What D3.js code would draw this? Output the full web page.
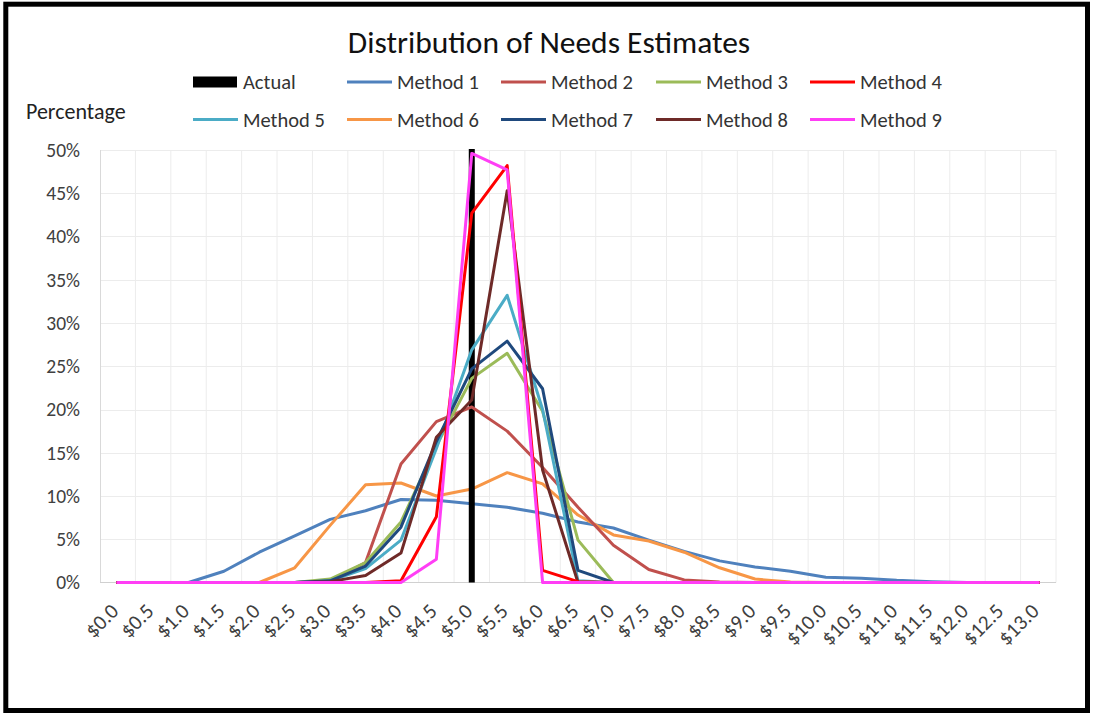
<!DOCTYPE html>
<html>
<head>
<meta charset="utf-8">
<script src="https://cdn.jsdelivr.net/npm/d3@7"></script>
<style>
  html, body { margin: 0; padding: 0; background: #ffffff; }
  svg { display: block; }
  text { font-family: Carlito, Calibri, Lato, "Open Sans", sans-serif; }
</style>
</head>
<body>
<svg id="chart" width="1095" height="714"></svg>
<script>
// ---------------- DATA ----------------
const categories = ["$0.0","$0.5","$1.0","$1.5","$2.0","$2.5","$3.0","$3.5","$4.0","$4.5",
  "$5.0","$5.5","$6.0","$6.5","$7.0","$7.5","$8.0","$8.5","$9.0","$9.5",
  "$10.0","$10.5","$11.0","$11.5","$12.0","$12.5","$13.0"];

const yTickValues = [0, 0.05, 0.10, 0.15, 0.20, 0.25, 0.30, 0.35, 0.40, 0.45, 0.50];

// Actual needs (percentage, single column)
const actualCategory = "$5.0";
const actualValue = 50;

// Series values in percent, one value per category
const method1 = [0,0,0,1.3,3.5,5.4,7.3,8.3,9.6,9.5,9.1,8.7,8.0,7.0,6.3,4.9,3.6,2.5,1.8,1.3,0.6,0.5,0.25,0.1,0,0,0];
const method2 = [0,0,0,0,0,0,0.1,2.3,13.7,18.6,20.3,17.5,13.3,8.7,4.3,1.5,0.3,0.05,0,0,0,0,0,0,0,0,0];
const method3 = [0,0,0,0,0,0,0.4,2.3,7.0,15.8,23.6,26.5,19.8,4.9,0,0,0,0,0,0,0,0,0,0,0,0,0];
const method4 = [0,0,0,0,0,0,0,0,0.2,7.6,42.7,48.2,1.4,0.1,0,0,0,0,0,0,0,0,0,0,0,0,0];
const method5 = [0,0,0,0,0,0,0.2,1.6,4.9,15.5,26.9,33.2,20.0,0.2,0,0,0,0,0,0,0,0,0,0,0,0,0];
const method6 = [0,0,0,0,0,1.7,6.6,11.3,11.5,10.0,10.8,12.7,11.4,7.8,5.5,4.8,3.5,1.7,0.4,0.05,0,0,0,0,0,0,0];
const method7 = [0,0,0,0,0,0,0.2,1.9,6.4,16.3,24.7,27.9,22.4,1.4,0,0,0,0,0,0,0,0,0,0,0,0,0];
const method8 = [0,0,0,0,0,0,0.1,0.8,3.4,16.8,21.1,45.3,13.0,0,0,0,0,0,0,0,0,0,0,0,0,0,0];
const method9 = [0,0,0,0,0,0,0,0,0,2.7,49.6,47.7,0,0,0,0,0,0,0,0,0,0,0,0,0,0,0];

const seriesNames  = ["Method 1","Method 2","Method 3","Method 4","Method 5","Method 6","Method 7","Method 8","Method 9"];
const seriesValues = [method1, method2, method3, method4, method5, method6, method7, method8, method9];
const seriesColors = ["#4F81BD","#C0504D","#9BBB59","#FF0000","#4BACC6","#F79646","#1F497D","#6E2A28","#FF3EF5"];

// ---------------- LAYOUT ----------------
const svg = d3.select("#chart");
const W = 1095, H = 714;
const plot = { left: 100, right: 1056, top: 150, bottom: 582.5 };
const FONT = "Carlito, Calibri, Lato, sans-serif";

const x = d3.scaleBand().domain(categories).range([plot.left, plot.right]).padding(0);
const y = d3.scaleLinear().domain([0, 0.5]).range([plot.bottom, plot.top]);
const cx = c => x(c) + x.bandwidth() / 2;

svg.append("rect").attr("width", W).attr("height", H).attr("fill", "#fff");

// gridlines
const grid = svg.append("g");
grid.selectAll("line.h").data(yTickValues.slice(1)).join("line")
  .attr("x1", plot.left).attr("x2", plot.right)
  .attr("y1", d => Math.round(y(d)) + 0.5).attr("y2", d => Math.round(y(d)) + 0.5)
  .attr("stroke", "#ECECEC").attr("stroke-width", 1);
grid.selectAll("line.v").data(categories.slice(1).concat(["__end"])).join("line")
  .attr("x1", d => d === "__end" ? plot.right : x(d))
  .attr("x2", d => d === "__end" ? plot.right : x(d))
  .attr("y1", plot.top).attr("y2", plot.bottom)
  .attr("stroke", "#ECECEC").attr("stroke-width", 1);

// axes lines
svg.append("line").attr("x1", plot.left + 0.5).attr("x2", plot.left + 0.5)
  .attr("y1", plot.top).attr("y2", plot.bottom).attr("stroke", "#D9D9D9");
svg.append("line").attr("x1", plot.left).attr("x2", plot.right)
  .attr("y1", plot.bottom).attr("y2", plot.bottom).attr("stroke", "#D0D0D0");

// Y axis labels
const yAxis = svg.append("g").attr("transform", `translate(${plot.left},0)`)
  .call(d3.axisLeft(y).tickValues(yTickValues).tickFormat(d3.format(".0%")).tickSize(0).tickPadding(20));
yAxis.select(".domain").remove();
yAxis.selectAll("text").attr("font-size", 19.5).attr("fill", "#404040")
  .style("font-family", FONT);

// X axis labels
const xAxis = svg.append("g").attr("transform", `translate(0,${plot.bottom})`)
  .call(d3.axisBottom(x).tickSize(0).tickPadding(0));
xAxis.select(".domain").remove();
xAxis.selectAll(".tick").attr("transform", null);
xAxis.selectAll(".tick text")
  .attr("text-anchor", "end")
  .attr("dy", null).attr("y", null)
  .attr("transform", d => `translate(${cx(d) + 2},${30}) rotate(-45)`)
  .attr("font-size", 21).attr("fill", "#404040")
  .style("font-family", FONT);

// series
const line = d3.line().x((v, i) => cx(categories[i])).y(v => y(v / 100));
const linesG = svg.append("g").attr("fill", "none");
function drawSeries(idx) {
  linesG.append("path").datum(seriesValues[idx])
    .attr("d", line)
    .attr("stroke", seriesColors[idx])
    .attr("stroke-width", 3)
    .attr("stroke-linejoin", "round")
    .attr("stroke-linecap", "round");
}
// low, wide series go under the Actual column
[0, 5].forEach(drawSeries);

// Actual column
const barW = 6;
linesG.append("rect")
  .attr("x", cx(actualCategory) - barW / 2)
  .attr("y", y(actualValue / 100) - 1)
  .attr("width", barW)
  .attr("height", y(0) - y(actualValue / 100) + 1)
  .attr("fill", "#000");

[1, 2, 4, 6, 7, 3, 8].forEach(drawSeries);

// Title
svg.append("text").attr("x", 549).attr("y", 53).attr("text-anchor", "middle")
  .attr("font-size", 31.5).attr("fill", "#111").text("Distribution of Needs Estimates");

// Y axis title
svg.append("text").attr("x", 26).attr("y", 119).attr("font-size", 22).attr("fill", "#222")
  .text("Percentage");

// Legend
const legendItems = [{ name: "Actual", type: "bar", color: "#000" }]
  .concat(seriesNames.map((n, i) => ({ name: n, type: "line", color: seriesColors[i] })));
const legCols = [193, 347, 501, 656, 810];
const legRows = [82, 119.5];
const leg = svg.append("g");
legendItems.forEach((it, i) => {
  const lx = legCols[i % 5], ly = legRows[Math.floor(i / 5)];
  if (it.type === "bar") {
    leg.append("rect").attr("x", lx).attr("y", ly - 5.5).attr("width", 44).attr("height", 11).attr("fill", it.color);
  } else {
    leg.append("line").attr("x1", lx).attr("x2", lx + 45).attr("y1", ly).attr("y2", ly)
      .attr("stroke", it.color).attr("stroke-width", 3);
  }
  leg.append("text").attr("x", lx + 50).attr("y", ly + 7).attr("font-size", 20.5)
    .attr("fill", "#333").text(it.name);
});

// Outer border
svg.append("rect").attr("x", 5.8).attr("y", 4.2).attr("width", 1081.7).attr("height", 706.3)
  .attr("fill", "none").attr("stroke", "#000").attr("stroke-width", 5);
</script>
</body>
</html>
